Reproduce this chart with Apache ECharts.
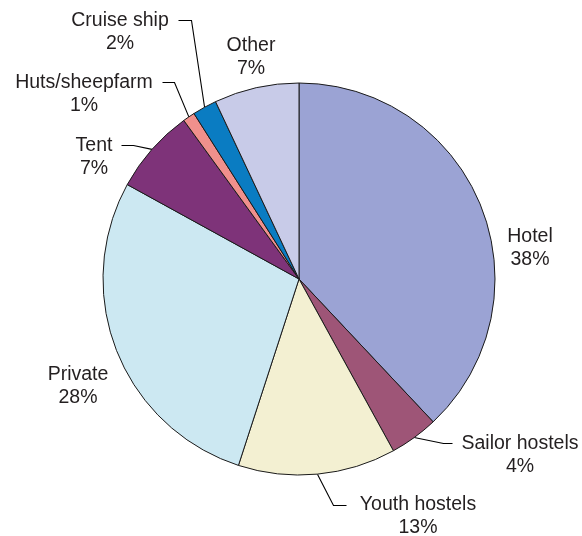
<!DOCTYPE html>
<html>
<head>
<meta charset="utf-8">
<script src="https://cdn.jsdelivr.net/npm/echarts@6/dist/echarts.min.js"></script>
<style>
  html, body { margin: 0; padding: 0; background: #fff; }
  #chart { width: 582px; height: 536px; }
</style>
</head>
<body>
<div id="chart"></div>
<script>
// Accommodation types, clockwise from 12 o'clock
const categories = ['Hotel', 'Sailor hostels', 'Youth hostels', 'Private', 'Tent', 'Huts/sheepfarm', 'Cruise ship', 'Other'];
const shares = [38, 4, 13, 28, 7, 1, 2, 7];
const sliceColors = ['#9BA3D4', '#9E5577', '#F3F0D2', '#CCE8F2', '#7E3379', '#F0908C', '#0A7CC2', '#C8CBE8'];

// Label block centres and leader-line elbows (null = no leader line)
const labelSpots = [
  { x: 530, y: 248, elbow: null },
  { x: 520, y: 455, elbow: [[443.5, 443.5], [452.5, 443.5]] },
  { x: 418, y: 516, elbow: [[333.5, 505.5], [346.5, 505.5]] },
  { x: 78,  y: 386, elbow: null },
  { x: 94,  y: 157, elbow: [[133.5, 145.5], [121.5, 145.5]] },
  { x: 84,  y: 94,  elbow: [[174.5, 82.5], [162.5, 82.5]] },
  { x: 120, y: 32,  elbow: [[191.5, 20.5], [178.5, 20.5]] },
  { x: 251, y: 57,  elbow: null }
];

const CX = 299, CY = 279, R = 196;
const total = shares.reduce((a, b) => a + b, 0);

// Point on the rim at the middle of slice i
function rimPoint(i) {
  let before = 0;
  for (let k = 0; k < i; k++) before += shares[k];
  const t = 2 * Math.PI * (before + shares[i] / 2) / total;
  return [CX + R * Math.sin(t), CY - R * Math.cos(t)];
}

const chart = echarts.init(document.getElementById('chart'));
chart.setOption({
  animation: false,
  series: [{
    type: 'pie',
    center: [CX, CY],
    radius: [0, R],
    startAngle: 90,
    clockwise: true,
    avoidLabelOverlap: false,
    data: categories.map((name, i) => ({
      name: name,
      value: shares[i],
      itemStyle: { color: sliceColors[i] },
      labelLine: { show: labelSpots[i].elbow !== null }
    })),
    itemStyle: { borderColor: '#1a1a1a', borderWidth: 1 },
    label: {
      show: true,
      position: 'outside',
      formatter: '{b}\n{c}%',
      fontFamily: 'Liberation Sans, Arial, sans-serif',
      fontSize: 19.5,
      lineHeight: 23,
      color: '#231F20',
      align: 'center'
    },
    labelLine: {
      show: true,
      lineStyle: { color: '#000', width: 1.1 }
    },
    labelLayout: function (params) {
      const i = params.dataIndex;
      const spot = labelSpots[i];
      const out = { x: spot.x, y: spot.y, align: 'center', verticalAlign: 'middle' };
      if (spot.elbow) {
        out.labelLinePoints = [rimPoint(i), spot.elbow[0], spot.elbow[1]];
      }
      return out;
    }
  }]
});
</script>
</body>
</html>
